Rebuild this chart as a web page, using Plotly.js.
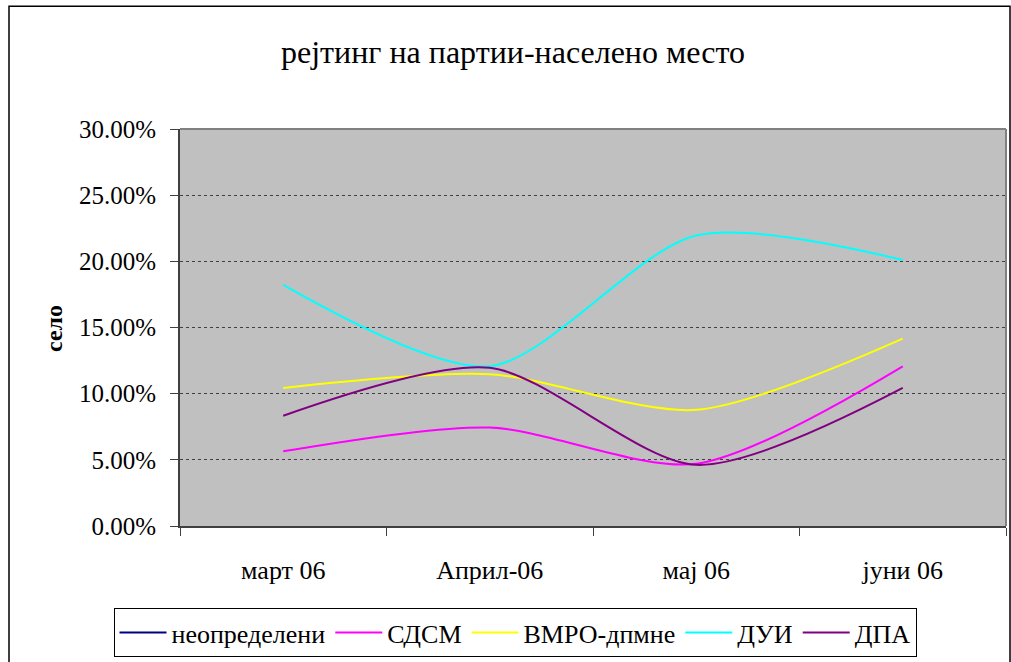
<!DOCTYPE html>
<html><head><meta charset="utf-8">
<script src="https://cdn.plot.ly/plotly-3.0.1.min.js"></script>
<style>body{margin:0;background:#fff}#c{width:1011px;height:662px}</style>
</head><body><div id="c"></div>
<script>
const categories = ['март 06', 'Април-06', 'мај 06', 'јуни 06'];
const neopredeleni = [null, null, null, null];
const sdsm = [0.0564, 0.0744, 0.0470, 0.1207];
const vmro = [0.1043, 0.1147, 0.0878, 0.1416];
const dui = [0.1822, 0.1207, 0.2196, 0.2010];
const dpa = [0.0833, 0.1195, 0.0462, 0.1043];
const yTicks = [0, 0.05, 0.10, 0.15, 0.20, 0.25, 0.30];

const F = 'Liberation Serif';
function tr(name, y, color) {
  return {x: categories, y: y, name: name, type: 'scatter', mode: 'lines',
    line: {color: color, width: 2, shape: 'spline', smoothing: 0.8}, connectgaps: false};
}
const data = [
  tr('неопределени', neopredeleni, '#000080'),
  tr('СДСМ', sdsm, '#FF00FF'),
  tr('ВМРО-дпмне', vmro, '#FFFF00'),
  tr('ДУИ', dui, '#00FFFF'),
  tr('ДПА', dpa, '#800080')
];
const layout = {
  width: 1011, height: 662,
  margin: {l: 180, r: 5, t: 129, b: 132},
  paper_bgcolor: '#ffffff', plot_bgcolor: '#C0C0C0',
  font: {family: F, color: '#000', size: 25},
  title: {text: 'рејтинг на партии-населено место', font: {family: F, size: 32, color: '#000'},
    x: 513 / 1011, xref: 'container', xanchor: 'center', y: 1 - 52 / 662, yref: 'container', yanchor: 'middle'},
  showlegend: true,
  legend: {orientation: 'h', x: (515 - 180) / 826, xanchor: 'center', y: (530 - 613) / 401, yanchor: 'top',
    bordercolor: '#000', borderwidth: 1, bgcolor: '#fff', font: {family: F, size: 26}, tracegroupgap: 0,
    itemwidth: 47},
  xaxis: {type: 'category', range: [-0.5, 3.5], tickson: 'boundaries', ticks: 'outside', ticklen: 8,
    tickcolor: '#404040', tickwidth: 1, showline: true, linecolor: '#404040', linewidth: 2,
    showgrid: false, zeroline: false, fixedrange: true, ticklabelstandoff: 20,
    tickfont: {family: F, size: 26}},
  yaxis: {range: [0, 0.3], tickvals: yTicks, tickformat: '.2%', ticks: 'outside', ticklen: 8,
    tickcolor: '#404040', tickwidth: 1, showline: true, linecolor: '#404040', linewidth: 2,
    showgrid: true, gridcolor: '#404040', gridwidth: 1, griddash: 'dot', zeroline: false,
    ticklabelstandoff: 9, tickfont: {family: F, size: 25}},
  annotations: [{text: '<b>село</b>', textangle: -90, xref: 'paper', yref: 'paper',
    x: (54 - 180) / 826, y: (530 - 330) / 401, xanchor: 'center', yanchor: 'middle', showarrow: false,
    font: {family: F, size: 24, color: '#000'}}],
  shapes: [
    {type: 'rect', xref: 'paper', yref: 'paper', x0: (9 - 180) / 826, x1: (1010 - 180) / 826,
      y0: (530 - 675) / 401, y1: (530 - 5) / 401, line: {color: '#000', width: 1.5}, layer: 'below'},
    {type: 'line', xref: 'paper', yref: 'paper', x0: 0, x1: 1, y0: 1, y1: 1, line: {color: '#808080', width: 2}},
    {type: 'line', xref: 'paper', yref: 'paper', x0: 1, x1: 1, y0: 0, y1: 1, line: {color: '#808080', width: 2}}
  ]
};
Plotly.newPlot('c', data, layout, {displayModeBar: false, staticPlot: true});
</script></body></html>
